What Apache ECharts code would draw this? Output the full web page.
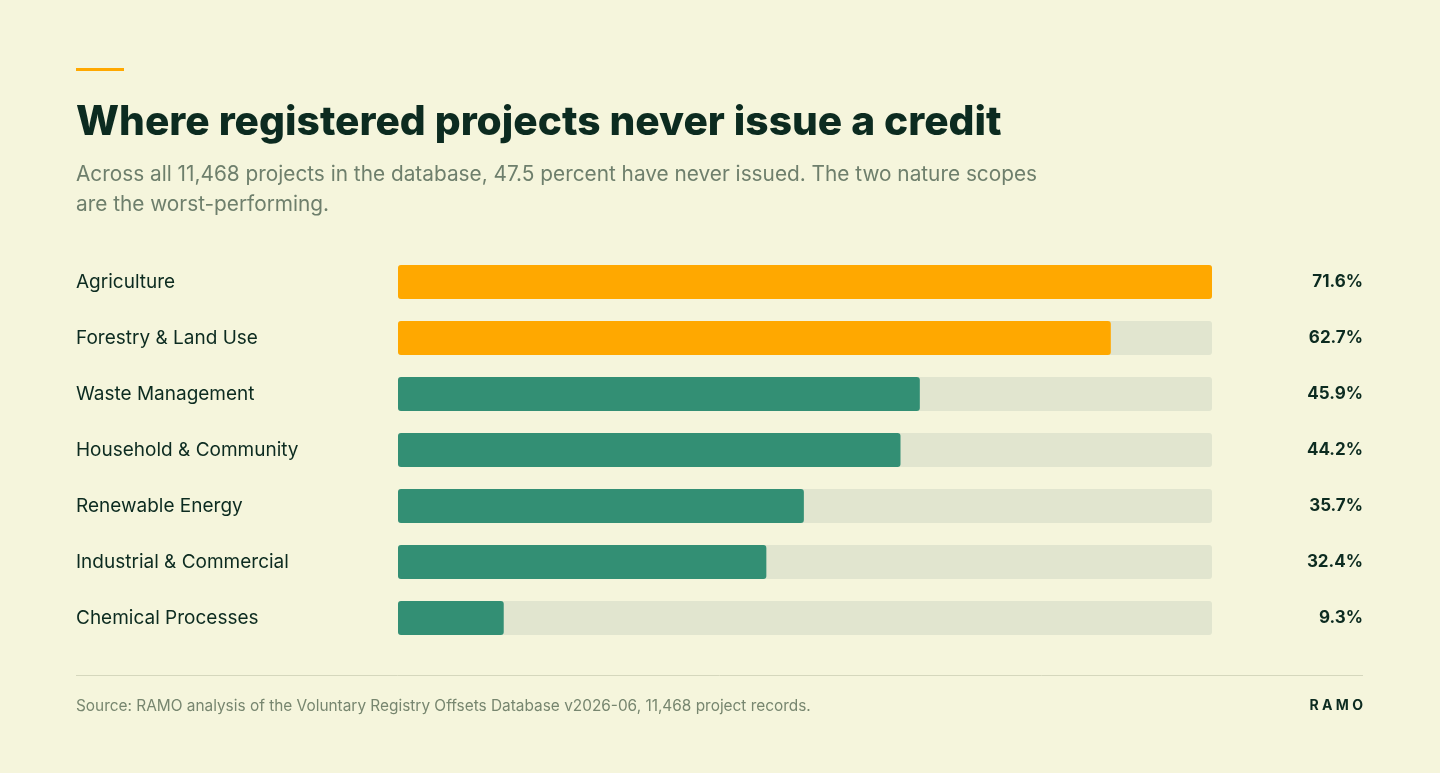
<!DOCTYPE html>
<html>
<head>
<meta charset="utf-8">
<script src="https://cdn.jsdelivr.net/npm/echarts@6/dist/echarts.min.js"></script>
<style>
  html, body { margin: 0; padding: 0; background: #f5f5dc; }
  #chart { width: 1440px; height: 773px; }
</style>
</head>
<body>
<div id="chart"></div>
<script>
// data
var categories = ["Agriculture", "Forestry & Land Use", "Waste Management", "Household & Community",
                  "Renewable Energy", "Industrial & Commercial", "Chemical Processes"];
var neverIssued = [71.6, 62.7, 45.9, 44.2, 35.7, 32.4, 9.3];
var natureScopes = ["Agriculture", "Forestry & Land Use"];

var ink = "#0c2b20";
var orange = "#ffa800";
var green = "#338f74";
var track = "#e1e5cf";
var maxVal = Math.max.apply(null, neverIssued);

var chart = echarts.init(document.getElementById("chart"));
var font = "Inter, 'Noto Sans', sans-serif";

var option = {
  backgroundColor: "#f5f5dc",
  animation: false,
  grid: { left: 398, width: 814, top: 254, height: 392 },
  xAxis: { type: "value", min: 0, max: maxVal, show: false },
  yAxis: [{
    type: "category",
    data: categories,
    inverse: true,
    axisLine: { show: false },
    axisTick: { show: false },
    axisLabel: { margin: 322, align: "left", color: ink, fontSize: 19, fontFamily: font, padding: [3, 0, 0, 0] }
  }, {
    type: "category",
    data: neverIssued.map(function (v) { return v.toFixed(1) + "%"; }),
    inverse: true,
    position: "right",
    axisLine: { show: false },
    axisTick: { show: false },
    axisLabel: { margin: 151, align: "right", color: ink, fontSize: 17, fontWeight: "bold", fontFamily: font, padding: [3, 0, 0, 0] }
  }],
  series: [{
    type: "bar",
    data: neverIssued.map(function () { return maxVal; }),
    barWidth: 34,
    barGap: "-100%",
    silent: true,
    itemStyle: { color: track, borderRadius: 3 }
  }, {
    type: "bar",
    data: neverIssued.map(function (v, i) {
      return { value: v, itemStyle: { color: natureScopes.indexOf(categories[i]) >= 0 ? orange : green } };
    }),
    barWidth: 34,
    itemStyle: { borderRadius: 3 }
  }],
  graphic: [
    { type: "rect", shape: { x: 76, y: 68, width: 48, height: 3 }, style: { fill: orange } },
    { type: "text", x: 76, y: 123, style: {
        text: "Where registered projects never issue a credit", fill: ink,
        font: "800 40.7px " + font, textVerticalAlign: "middle", textAlign: "left" } },
    { type: "text", x: 76, y: 190, style: {
        text: "Across all 11,468 projects in the database, 47.5 percent have never issued. The two nature scopes\nare the worst-performing.",
        fill: "#6e7f6c", font: "20.8px " + font, lineHeight: 30, textVerticalAlign: "middle", textAlign: "left" } },
    { type: "line", shape: { x1: 76, y1: 675.5, x2: 1363, y2: 675.5 }, style: { stroke: "#d5d7bd", lineWidth: 1 } },
    { type: "text", x: 76, y: 706, style: {
        text: "Source: RAMO analysis of the Voluntary Registry Offsets Database v2026-06, 11,468 project records.",
        fill: "#77866f", font: "15.4px " + font, textVerticalAlign: "middle", textAlign: "left" } },
    { type: "text", x: 1363, y: 706, style: {
        text: "R A M O", fill: ink, font: "bold 14px " + font, textVerticalAlign: "middle", textAlign: "right" } }
  ]
};

chart.setOption(option);
</script>
</body>
</html>
